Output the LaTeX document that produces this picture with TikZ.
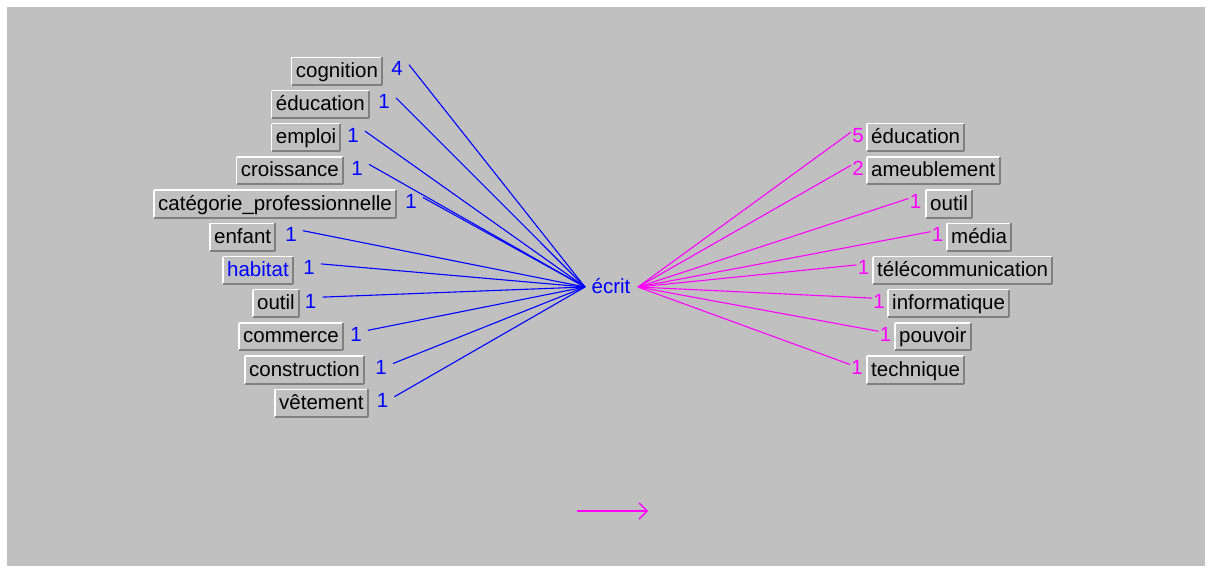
\documentclass[tikz,border=0pt]{standalone}
\usepackage{fontspec}
\setmainfont{Liberation Sans}
\usetikzlibrary{arrows.meta}
\definecolor{panel}{HTML}{C0C0C0}
\definecolor{bevellow}{HTML}{808080}
\definecolor{linkblue}{HTML}{0000FF}
\definecolor{linkpink}{HTML}{FF00FF}
\newcommand{\lblfont}{\fontsize{20.5}{24}\selectfont}

\begin{document}
\begin{tikzpicture}[x=1pt,y=-1pt,
  highedge/.style={draw=white,line width=1.5pt},
  lowedge/.style={draw=bevellow,line width=2pt},
  lbl/.style={fill=panel,anchor=west,font=\lblfont,inner xsep=4pt,inner ysep=0pt,
    text height=15.5pt,text depth=3pt,minimum height=27pt,
    append after command={
      (\tikzlastnode.south west) edge[highedge] (\tikzlastnode.north west)
      (\tikzlastnode.north west) edge[highedge] (\tikzlastnode.north east)
      (\tikzlastnode.north east) edge[lowedge] (\tikzlastnode.south east)
      (\tikzlastnode.south east) edge[lowedge] (\tikzlastnode.south west)}},
  cnt/.style={font=\lblfont,inner sep=0pt},
  inlink/.style={draw=linkblue,line width=1.1pt},
  outlink/.style={draw=linkpink,line width=1.1pt}]

% canvas and grey panel
\useasboundingbox (0,0) rectangle (1212,570);
\fill[white] (0,0) rectangle (1212,570);
\fill[panel] (7,7) rectangle (1205,566);

% central word and the two hubs of the star
\node[font=\lblfont,text=linkblue,inner sep=0pt,text height=15.5pt,text depth=3pt] (ecrit) at (611,287) {écrit};
\coordinate (inhub) at (585,287);
\coordinate (outhub) at (638,287);

% incoming words (left)
\foreach \id/\txt/\col/\bx/\nx/\y/\n in {
  cog/cognition/black/291.7/397/71/4,
  edu/éducation/black/271.7/384/104.2/1,
  emp/emploi/black/271.7/353/137.4/1,
  cro/croissance/black/236.7/357/170.6/1,
  cat/catégorie\_professionnelle/black/154/411/203.8/1,
  enf/enfant/black/210/291/237/1,
  hab/habitat/linkblue/223/309/270.2/1,
  out/outil/black/253/310.5/303.4/1,
  com/commerce/black/239/356/336.6/1,
  con/construction/black/245/381/369.8/1,
  vet/vêtement/black/275/382.5/403/1}{
  \node[lbl,text=\col] (b-\id) at (\bx,\y) {\txt};
  \node[cnt,text=linkblue] (n-\id) at (\nx,\y-2.3) {\n};
  \coordinate (s-\id) at ([shift={(12,-4)}]n-\id.center);
  \draw[inlink] (s-\id) -- (inhub);
}

% outgoing words (right)
\foreach \id/\txt/\bx/\nx/\y/\n in {
  redu/éducation/867/858/137.4/5,
  ameu/ameublement/867/858/170.6/2,
  rout/outil/926/915.5/203.8/1,
  med/média/947/937.5/237/1,
  tel/télécommunication/873/863.5/270.2/1,
  inf/informatique/888/879/303.4/1,
  pou/pouvoir/895/885.5/336.6/1,
  tec/technique/867/857/369.8/1}{
  \node[lbl] (b-\id) at (\bx,\y) {\txt};
  \node[cnt,text=linkpink] (n-\id) at (\nx,\y-2.3) {\n};
  \coordinate (e-\id) at ([shift={(-7,-3)}]n-\id.center);
  \draw[outlink] (outhub) -- (e-\id);
}

% direction legend
\coordinate (legA) at (577,511);
\coordinate (legB) at (648,511);
\draw[outlink,line width=1.6pt,-{Straight Barb[length=8pt,width=16pt,line width=1.4pt]}] (legA) -- (legB);
\end{tikzpicture}
\end{document}
